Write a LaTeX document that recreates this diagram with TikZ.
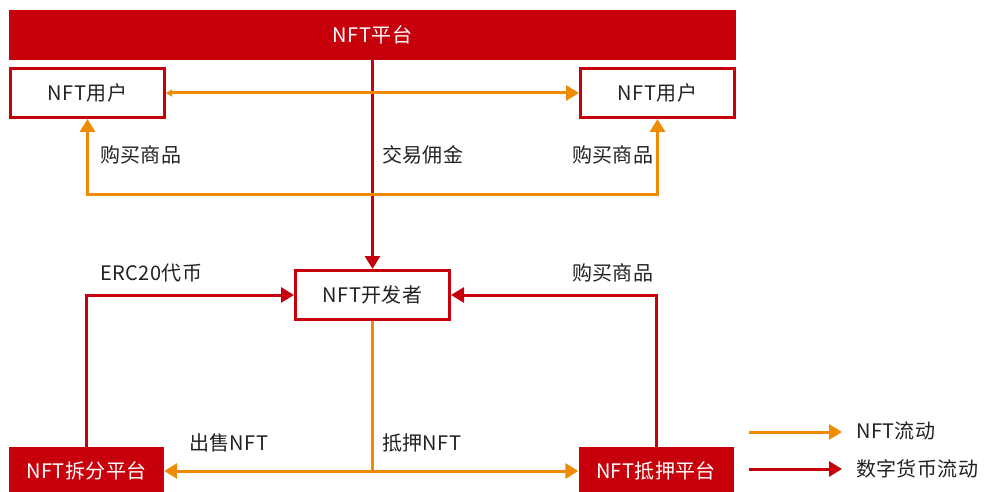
\documentclass[tikz,border=0pt]{standalone}
\usepackage{fontspec}
\setmainfont{Noto Sans CJK SC}[LetterSpace=2]
\usetikzlibrary{arrows.meta}
\definecolor{myred}{HTML}{C7000B}
\definecolor{myorange}{HTML}{F08A00}
\definecolor{mytext}{HTML}{222222}
\begin{document}
\begin{tikzpicture}[x=1pt,y=-1pt,
  every node/.style={font=\fontsize{20}{23}\selectfont, text=mytext},
  whitebox/.style={draw=myred, line width=3pt, fill=white, minimum width=154pt, minimum height=49pt, inner sep=0pt},
  redbox/.style={fill=myred, text=white, minimum width=155pt, minimum height=48pt, inner sep=0pt},
  lbl/.style={anchor=west, inner sep=0pt},
  redflow/.style={draw=myred, line width=3pt, -{Triangle[length=13pt,width=15pt]}},
  orangeflow/.style={draw=myorange, line width=3pt, -{Triangle[length=13pt,width=15pt]}},
  orangeline/.style={draw=myorange, line width=3pt}
]
\useasboundingbox (0,0) rectangle (985,492);

% nodes
\node[fill=myred, text=white, minimum width=727pt, minimum height=50pt, inner sep=0pt] (bar) at (372.5,35) {NFT平台};
\node[whitebox] (u1) at (87.5,93) {NFT用户};
\node[whitebox] (u2) at (657.5,93) {NFT用户};
\node[whitebox] (dev) at (372.5,295) {NFT开发者};
\node[redbox] (split) at (86.5,471) {NFT拆分平台};
\node[redbox] (pledge) at (656,471) {NFT抵押平台};

% coordinates
\coordinate (b) at (372.5,194);
\coordinate (j) at (372.5,471);
\coordinate (l1a) at (749,432);
\coordinate (l1b) at (842,432);
\coordinate (l2a) at (749,469);
\coordinate (l2b) at (842,469);

% connectors
\draw[redflow] (bar.south) -- (dev.north);
\draw[draw=myorange, line width=3pt, {Triangle[length=6pt,width=7pt]}-{Triangle[length=13pt,width=15pt]}] (u1.east) -- (u2.west);
\draw[draw=myorange, line width=3pt, {Triangle[length=13pt,width=15pt]}-{Triangle[length=13pt,width=15pt]}] (u1.south) |- (b) -| (u2.south);
\draw[redflow] (split.north) |- (dev.west);
\draw[redflow] (pledge.north) |- (dev.east);
\draw[orangeline] (dev.south) -- (j);
\draw[orangeflow] (j) -- (split.east);
\draw[orangeflow] (j) -- (pledge.west);
\draw[orangeflow] (l1a) -- (l1b);
\draw[redflow] (l2a) -- (l2b);

% labels
\node[lbl] (t1) at (100,155) {购买商品};
\node[lbl] (t2) at (382,155) {交易佣金};
\node[lbl] (t3) at (572,155) {购买商品};
\node[lbl] (t4) at (100,273) {ERC20代币};
\node[lbl] (t5) at (572,273) {购买商品};
\node[lbl] (t6) at (189,443) {出售NFT};
\node[lbl] (t7) at (382,443) {抵押NFT};
\node[lbl] (t8) at (856,431) {NFT流动};
\node[lbl] (t9) at (856,469) {数字货币流动};
\end{tikzpicture}
\end{document}
